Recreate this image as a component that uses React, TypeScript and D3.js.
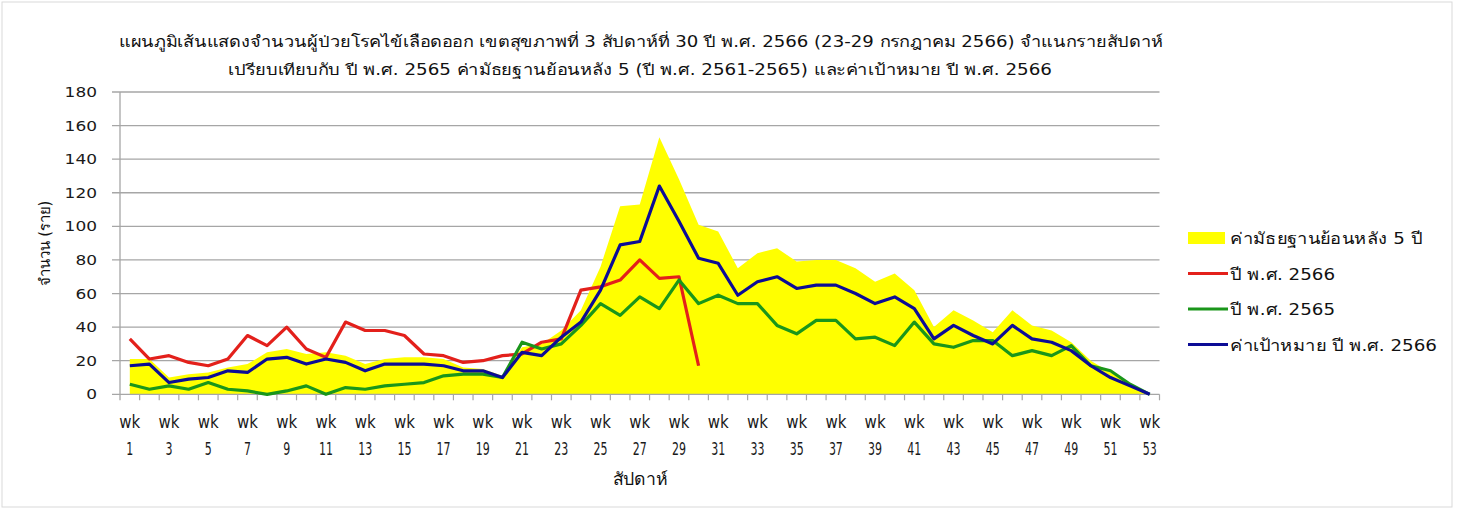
import React, { useEffect, useRef } from 'react';
import * as d3 from 'd3';

const weeks = [
  1, 2, 3, 4, 5, 6, 7, 8, 9, 10, 11, 12, 13, 14, 15, 16, 17, 18, 19, 20,
  21, 22, 23, 24, 25, 26, 27, 28, 29, 30, 31, 32, 33, 34, 35, 36, 37, 38, 39, 40,
  41, 42, 43, 44, 45, 46, 47, 48, 49, 50, 51, 52, 53,
];

// ค่ามัธยฐานย้อนหลัง 5 ปี
const median5 = [
  21, 21, 10, 12, 13, 16, 18, 25, 27, 24, 25, 23, 18, 21, 22, 22, 21, 16, 15, 11,
  28, 30, 38, 50, 76, 112, 113, 153, 128, 101, 97, 75, 84, 87, 79, 80, 80, 75, 67, 72,
  62, 40, 50, 44, 37, 50, 41, 38, 31, 20, 13, 6, 0,
];

// ปี พ.ศ. 2566 (ถึงสัปดาห์ที่ 30)
const y2566 = [
  33, 21, 23, 19, 17, 21, 35, 29, 40, 27, 22, 43, 38, 38, 35, 24, 23, 19, 20, 23,
  24, 31, 33, 62, 64, 68, 80, 69, 70, 17,
];

// ปี พ.ศ. 2565
const y2565 = [
  6, 3, 5, 3, 7, 3, 2, 0, 2, 5, 0, 4, 3, 5, 6, 7, 11, 12, 12, 10,
  31, 27, 30, 41, 54, 47, 58, 51, 68, 54, 59, 54, 54, 41, 36, 44, 44, 33, 34, 29,
  43, 30, 28, 32, 32, 23, 26, 23, 29, 17, 14, 6, 0,
];

// ค่าเป้าหมาย ปี พ.ศ. 2566
const target2566 = [
  17, 18, 7, 9, 10, 14, 13, 21, 22, 18, 21, 19, 14, 18, 18, 18, 17, 14, 14, 10,
  25, 23, 34, 43, 62, 89, 91, 124, 103, 81, 78, 59, 67, 70, 63, 65, 65, 60, 54, 58,
  51, 33, 41, 35, 30, 41, 33, 31, 26, 17, 10, 5, 0,
];

const yTicks = [0, 20, 40, 60, 80, 100, 120, 140, 160, 180];

const titleLines = [
  'แผนภูมิเส้นแสดงจำนวนผู้ป่วยโรคไข้เลือดออก เขตสุขภาพที่ 3 สัปดาห์ที่ 30 ปี พ.ศ. 2566 (23-29 กรกฎาคม 2566) จำแนกรายสัปดาห์',
  'เปรียบเทียบกับ  ปี พ.ศ. 2565 ค่ามัธยฐานย้อนหลัง 5 (ปี พ.ศ. 2561-2565) และค่าเป้าหมาย  ปี พ.ศ. 2566',
];

const legendItems = [
  { label: 'ค่ามัธยฐานย้อนหลัง 5 ปี', color: '#ffff00', type: 'area', w: 192 },
  { label: 'ปี พ.ศ. 2566', color: '#e3201b', type: 'line', w: 105 },
  { label: 'ปี พ.ศ. 2565', color: '#1a961a', type: 'line', w: 105 },
  { label: 'ค่าเป้าหมาย ปี พ.ศ. 2566', color: '#0c0c96', type: 'line', w: 207 },
];

const FONT = "Tahoma, 'DejaVu Sans', 'Noto Sans', sans-serif";

const App = () => {
  const chartRef = useRef<SVGSVGElement>(null);

  useEffect(() => {
    const svg = d3.select(chartRef.current);
    svg.selectAll('*').remove();

    const left = 120, right = 1159.5, top = 92, bottom = 394.3;

    const x = d3.scaleBand<number>().domain(weeks).range([left, right]).padding(0);
    const xc = (w: number) => (x(w) as number) + x.bandwidth() / 2;
    const y = d3.scaleLinear().domain([0, 180]).range([bottom, top]);

    // frame
    svg.append('rect')
      .attr('x', 2).attr('y', 2).attr('width', 1450).attr('height', 505)
      .attr('fill', 'white').attr('stroke', '#d9d9d9');

    // gridlines + y ticks
    svg.append('g')
      .selectAll('line')
      .data(yTicks.filter(t => t > 0))
      .enter()
      .append('line')
      .attr('x1', left - 8).attr('x2', right)
      .attr('y1', d => y(d)).attr('y2', d => y(d))
      .attr('stroke', '#a6a6a6').attr('stroke-width', 1.3);

    // median area
    const area = d3.area<number>()
      .x((d, i) => xc(weeks[i]))
      .y0(y(0))
      .y1(d => y(d));
    svg.append('path')
      .datum(median5)
      .attr('d', area)
      .attr('fill', '#ffff00');

    // axes lines
    svg.append('line')
      .attr('x1', left - 8).attr('x2', right)
      .attr('y1', y(0)).attr('y2', y(0))
      .attr('stroke', '#a6a6a6').attr('stroke-width', 1.3);
    svg.append('line')
      .attr('x1', left).attr('x2', left)
      .attr('y1', top).attr('y2', y(0) + 6)
      .attr('stroke', '#a6a6a6').attr('stroke-width', 1.3);

    // x tick marks at band boundaries
    svg.append('g')
      .selectAll('line')
      .data(weeks)
      .enter()
      .append('line')
      .attr('x1', d => (x(d) as number) + x.bandwidth())
      .attr('x2', d => (x(d) as number) + x.bandwidth())
      .attr('y1', y(0)).attr('y2', y(0) + 6)
      .attr('stroke', '#a6a6a6').attr('stroke-width', 1.2);

    // y tick labels
    svg.append('g')
      .selectAll('text')
      .data(yTicks)
      .enter()
      .append('text')
      .attr('x', 97)
      .attr('y', d => y(d) + 5)
      .attr('text-anchor', 'end')
      .attr('font-family', FONT)
      .attr('font-size', 14)
      .attr('fill', '#1a1a1a')
      .attr('textLength', d => String(d).length * 10.8)
      .attr('lengthAdjust', 'spacingAndGlyphs')
      .text(d => d);

    // x tick labels (odd weeks)
    const labelled = weeks.filter(w => w % 2 === 1);
    const xl = svg.append('g')
      .attr('font-family', FONT)
      .attr('font-size', 17)
      .attr('fill', '#1a1a1a')
      .attr('text-anchor', 'middle');
    xl.selectAll('text.wk')
      .data(labelled)
      .enter()
      .append('text')
      .attr('class', 'wk')
      .attr('x', d => xc(d))
      .attr('y', 428)
      .attr('textLength', 21)
      .attr('lengthAdjust', 'spacingAndGlyphs')
      .text('wk');
    xl.selectAll('text.num')
      .data(labelled)
      .enter()
      .append('text')
      .attr('class', 'num')
      .attr('x', d => xc(d))
      .attr('y', 455)
      .attr('textLength', d => String(d).length * 7)
      .attr('lengthAdjust', 'spacingAndGlyphs')
      .text(d => d);

    // lines
    const line = d3.line<number>()
      .x((d, i) => xc(weeks[i]))
      .y(d => y(d));
    [[y2566, legendItems[1].color], [y2565, legendItems[2].color], [target2566, legendItems[3].color]]
      .forEach(([vals, color]) => {
        svg.append('path')
          .datum(vals as number[])
          .attr('d', line)
          .attr('fill', 'none')
          .attr('stroke', color as string)
          .attr('stroke-width', 3.2)
          .attr('stroke-linejoin', 'round');
      });

    // title
    const tl = [[119, 1163, 47], [228, 1052, 75]];
    titleLines.forEach((t, i) => {
      svg.append('text')
        .attr('x', tl[i][0])
        .attr('y', tl[i][2])
        .attr('font-family', FONT)
        .attr('font-size', 15.5)
        .attr('fill', '#111')
        .attr('textLength', tl[i][1] - tl[i][0])
        .attr('lengthAdjust', 'spacingAndGlyphs')
        .text(t);
    });

    // axis titles
    svg.append('text')
      .attr('transform', `translate(50,${(top + bottom) / 2}) rotate(-90)`)
      .attr('text-anchor', 'middle')
      .attr('font-family', FONT)
      .attr('font-size', 15)
      .attr('fill', '#111')
      .attr('textLength', 85)
      .attr('lengthAdjust', 'spacingAndGlyphs')
      .text('จำนวน (ราย)');
    svg.append('text')
      .attr('x', 640)
      .attr('y', 485)
      .attr('text-anchor', 'middle')
      .attr('font-family', FONT)
      .attr('font-size', 17)
      .attr('fill', '#111')
      .attr('textLength', 55)
      .attr('lengthAdjust', 'spacingAndGlyphs')
      .text('สัปดาห์');

    // legend
    const lg = svg.append('g').attr('font-family', FONT).attr('font-size', 16).attr('fill', '#111');
    legendItems.forEach((d, i) => {
      const cy = 238 + i * 35.5;
      if (d.type === 'area') {
        lg.append('rect')
          .attr('x', 1188).attr('y', cy - 6).attr('width', 37).attr('height', 12)
          .attr('fill', d.color);
      } else {
        lg.append('line')
          .attr('x1', 1188).attr('x2', 1228).attr('y1', cy).attr('y2', cy)
          .attr('stroke', d.color).attr('stroke-width', 3);
      }
      lg.append('text')
        .attr('x', 1230)
        .attr('y', cy + 6)
        .attr('textLength', d.w)
        .attr('lengthAdjust', 'spacingAndGlyphs')
        .text(d.label);
    });
  }, []);

  return (
    <svg
      ref={chartRef}
      width={1457}
      height={510}
      style={{ position: 'absolute', left: 0, top: 0, background: 'white' }}
    ></svg>
  );
};

export default App;
